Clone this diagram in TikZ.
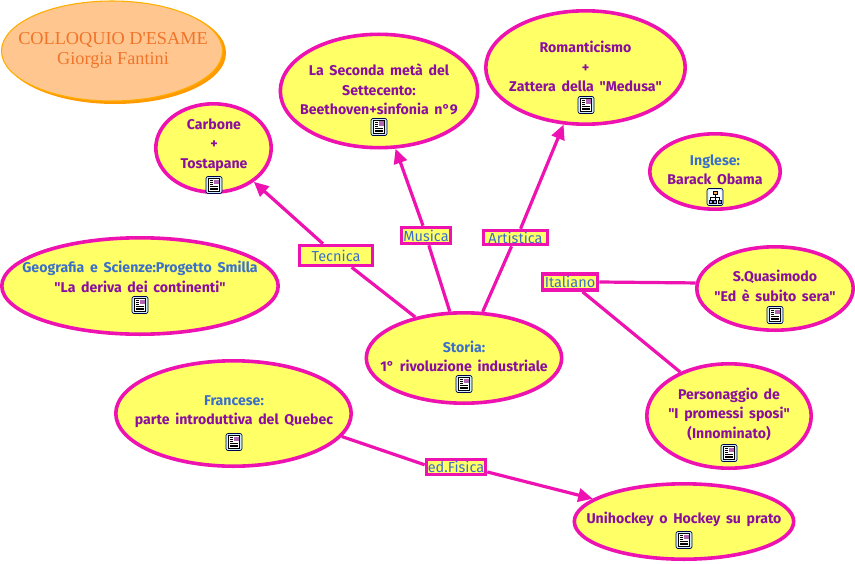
\documentclass[tikz,border=0pt]{standalone}
\usepackage{fontspec}
\setmainfont{Fira Sans}[Ligatures=TeXOff,WordSpace=1.7]
\newfontfamily\titlefont{Liberation Serif}
\usetikzlibrary{shapes.geometric,arrows.meta}
\definecolor{mag}{HTML}{EE12B0}
\definecolor{fillY}{HTML}{FFFF66}
\definecolor{txtP}{HTML}{8A0F9E}
\definecolor{txtB}{HTML}{3C70C8}
\definecolor{peach}{HTML}{FFC78F}
\definecolor{orng}{HTML}{FF9A00}
\definecolor{ttl}{HTML}{F0742A}
\tikzset{
  x=0.75pt,y=-0.75pt,
  bub/.style={ellipse,draw=mag,fill=fillY,line width=2.7pt,inner sep=0pt},
  lab/.style={rectangle,draw=mag,fill=fillY,line width=2.7pt,inner sep=0pt,font=\fontsize{10.9}{12}\selectfont,text=txtB},
  txt/.style={align=center,inner sep=0pt,font=\fontsize{10.6}{14.6}\bfseries\selectfont,text=txtP},
  link/.style={draw=mag,line width=2.4pt},
  arr/.style={link,-{Triangle[length=11pt,width=10pt]}},
  doc/.pic={
    \draw[draw=black!70!blue,fill=cyan!20,line width=.5pt,rounded corners=1.5pt] (-8,-8.5) rectangle (8,8.5);
    \fill[white] (-5.5,-6.5) rectangle (5.5,6.5);
    \draw[black,line width=.5pt] (-5.5,-6.5) rectangle (5.5,6.5);
    \fill[blue!50!red!60] (0,-5.5) rectangle (4.5,-1);
    \foreach \yy in {-4.5,-2.5,-.5}{\draw[black,line width=.6pt] (-4,\yy) -- (-.8,\yy);}
    \foreach \yy in {1.5,3,4.7}{\draw[black,line width=.6pt] (-4,\yy) -- (4,\yy);}
  },
  tree/.pic={
    \draw[draw=black!70!blue,fill=cyan!20,line width=.5pt,rounded corners=1.5pt] (-8,-8.5) rectangle (8,8.5);
    \fill[white,rounded corners=1pt] (-6.5,-7) rectangle (6.5,7);
    \draw[black,line width=.5pt] (0,-3) -- (0,3) (-4.5,3) -- (-4.5,0) -- (4.5,0) -- (4.5,3);
    \draw[black,fill=orange!70,line width=.4pt] (-1.8,-6) rectangle (1.8,-3);
    \foreach \xx in {-4.5,0,4.5}{\draw[black,fill=blue!40,line width=.4pt] (\xx-1.6,3) rectangle (\xx+1.6,6);}
  }
}
\newcommand{\bubble}[5]{\node[bub,minimum width=#4*.75pt-2.7pt,minimum height=#5*.75pt-2.7pt] (#1) at (#2,#3) {};}
\newcommand{\qq}{\symbol{34}}
\begin{document}
\begin{tikzpicture}
\useasboundingbox (0,0) rectangle (855,563);
% title
\node[ellipse,fill=orng,minimum width=222*.75pt,minimum height=102*.75pt,inner sep=0pt] (titleshadow) at (115,53) {};
\node[ellipse,draw=orng!80!yellow,fill=peach,line width=.8pt,minimum width=221*.75pt,minimum height=100*.75pt,inner sep=0pt] (titlebub) at (112,51) {};
\node[align=center,text=ttl,font=\titlefont\fontsize{13.7}{15}\selectfont,inner sep=0pt] (titletxt) at (113,50) {COLLOQUIO D'ESAME\\Giorgia Fantini};
% bubbles
\bubble{carbone}{213.5}{148}{119}{92}
\bubble{seconda}{379}{91}{201}{117}
\bubble{roman}{585.5}{67.5}{203}{117}
\bubble{inglese}{715}{171.5}{134}{79}
\bubble{geo}{140}{286}{280}{100}
\bubble{quasi}{775}{288.5}{160}{87}
\bubble{storia}{464}{358}{199}{94}
\bubble{franc}{233.5}{413.5}{239}{109}
\bubble{perso}{729}{416}{168}{108}
\bubble{uni}{684}{521.5}{223}{79}
% labels
\node[lab,minimum width=73*.75pt,minimum height=20*.75pt] (tecnica) at (336,255.5) {Tecnica};
\node[lab,minimum width=49*.75pt,minimum height=16*.75pt] (musica) at (426,235.5) {Musica};
\node[lab,minimum width=64*.75pt,minimum height=14*.75pt] (artistica) at (515.5,237.5) {Artistica};
\node[lab,minimum width=55*.75pt,minimum height=16*.75pt] (italiano) at (570,282) {Italiano};
\node[lab,minimum width=59*.75pt,minimum height=15*.75pt] (fisica) at (456,467) {ed.Fisica};
% connectors
\draw[link] (storia.140.5) -- (tecnica.-37);
\draw[arr] (tecnica.138) -- (carbone.-40);
\draw[link] (storia.107) -- (musica.-74);
\draw[arr] (musica.107) -- (seconda.-74);
\draw[link] (storia.68) -- (artistica.-114);
\draw[arr] (artistica.60) -- (roman.-111.5);
\draw[link] (italiano.0) -- (quasi.176);
\draw[link] (italiano.-38) -- (perso.138);
\draw[link] (franc.-12) -- (fisica.176);
\draw[arr] (fisica.-9) -- (uni.166);
% texts
\node[txt] (t1) at (214,145) {Carbone\\+\\Tostapane};
\node[txt] (t2) at (379,89.5) {La Seconda metà del\\Settecento:\\Beethoven+sinfonia n°9};
\node[txt] (t3) at (585.5,66.5) {Romanticismo\\+\\Zattera della \qq Medusa\qq};
\node[txt] (t4) at (715,169.5) {\textcolor{txtB}{Inglese:}\\Barack Obama};
\node[txt] (t5) at (140,277) {\textcolor{txtB}{Geografia e Scienze:Progetto Smilla}\\\qq La deriva dei continenti\qq};
\node[txt] (t6) at (775,286) {S.Quasimodo\\\qq Ed è subito sera\qq};
\node[txt] (t7) at (464,356.5) {\textcolor{txtB}{Storia:}\\1° rivoluzione industriale};
\node[txt] (t8) at (234,411.5) {\textcolor{txtB}{Francese:}\\parte introduttiva del Quebec};
\node[txt] (t9) at (729,414) {Personaggio de\\\qq I promessi sposi\qq\\(Innominato)};
\node[txt] (t10) at (684,519.5) {Unihockey o Hockey su prato};
% icons
\pic at (214,185) {doc};
\pic at (379,127) {doc};
\pic at (586,105) {doc};
\pic at (715,197) {tree};
\pic at (140,305) {doc};
\pic at (775,315) {doc};
\pic at (464,384) {doc};
\pic at (234,442) {doc};
\pic at (729,453) {doc};
\pic at (684,540) {doc};
\end{tikzpicture}
\end{document}
